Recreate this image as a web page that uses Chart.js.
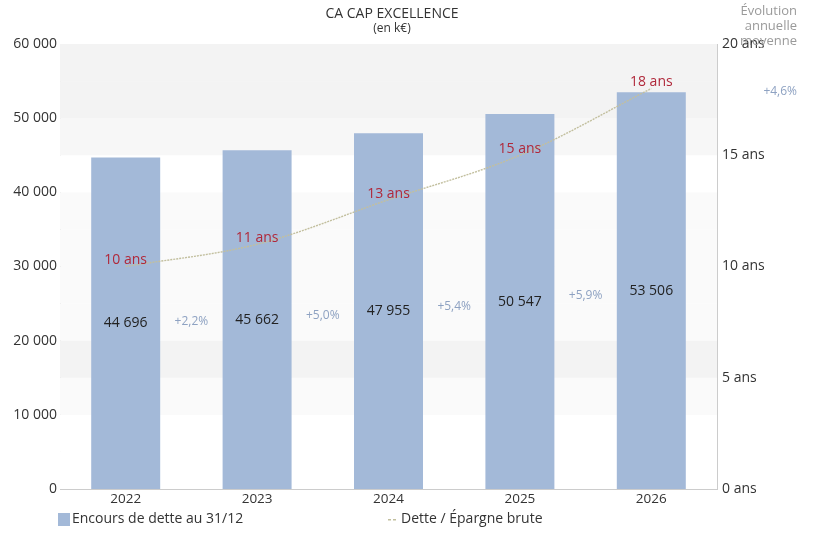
<!DOCTYPE html>
<html>
<head>
<meta charset="utf-8">
<script src="https://cdn.jsdelivr.net/npm/chart.js@4"></script>
<style>
	html, body { margin: 0; padding: 0; background: #ffffff; }
	#wrap { width: 816px; height: 533px; position: relative; }
</style>
</head>
<body>
<div id="wrap"><canvas id="chart"></canvas></div>
<script>
// Chart data
const years = ['2022', '2023', '2024', '2025', '2026'];
const encours = [44696, 45662, 47955, 50547, 53506];
const detteEpargne = [10, 11, 13, 15, 18];
const evolution = ['+2,2%', '+5,0%', '+5,4%', '+5,9%'];
const evolutionMoyenne = '+4,6%';

const FONT = '"Open Sans", "Noto Sans", sans-serif';
const BAR_COLOR = '#a3b9d8';
const LINE_COLOR = '#c2bf9e';
const RED = '#b0283a';
const GROWTH_COLOR = '#8ea2c2';

// background bands every 5 000, from bottom to top
const bandColors = ['#ffffff', '#ffffff', '#fafafa', '#f3f3f3', '#fafafa', '#fafafa',
	'#fafafa', '#fafafa', '#ffffff', '#f7f7f7', '#f3f3f3', '#f3f3f3'];

function formatThousands(v) {
	return String(v).replace(/\B(?=(\d{3})+(?!\d))/g, ' ');
}

const bandsPlugin = {
	id: 'bands',
	beforeDatasetsDraw(chart) {
		const { ctx, chartArea, scales } = chart;
		const y = scales.y;
		ctx.save();
		bandColors.forEach((c, i) => {
			const top = y.getPixelForValue((i + 1) * 5000);
			const bottom = y.getPixelForValue(i * 5000);
			ctx.fillStyle = c;
			ctx.fillRect(chartArea.left, top, chartArea.right - chartArea.left, bottom - top);
		});
		ctx.restore();
	}
};

const labelsPlugin = {
	id: 'labels',
	afterDatasetsDraw(chart) {
		const { ctx } = chart;
		const barMeta = chart.getDatasetMeta(0);
		const lineMeta = chart.getDatasetMeta(1);
		ctx.save();
		ctx.textAlign = 'center';
		ctx.textBaseline = 'middle';

		// bar values centred in bars
		const mids = barMeta.data.map(b => (b.y + b.base) / 2);
		ctx.font = '14px ' + FONT;
		ctx.fillStyle = '#222222';
		barMeta.data.forEach((b, i) => {
			ctx.fillText(formatThousands(encours[i]), b.x, mids[i]);
		});

		// growth between bars
		ctx.font = '12px ' + FONT;
		ctx.fillStyle = GROWTH_COLOR;
		evolution.forEach((t, i) => {
			const x = (barMeta.data[i].x + barMeta.data[i + 1].x) / 2;
			const y = (mids[i] + mids[i + 1]) / 2;
			ctx.fillText(t, x, y);
		});
		ctx.textAlign = 'right';
		ctx.fillText(evolutionMoyenne, 797, 92);
		ctx.textAlign = 'center';

		// dette / epargne labels
		ctx.font = '14px ' + FONT;
		ctx.fillStyle = RED;
		lineMeta.data.forEach((p, i) => {
			ctx.fillText(detteEpargne[i] + ' ans', p.x, p.y - 6);
		});

		// title
		ctx.fillStyle = '#333333';
		ctx.font = '14px ' + FONT;
		ctx.fillText('CA CAP EXCELLENCE', 392, 14);
		ctx.font = '12px ' + FONT;
		ctx.fillText('(en k€)', 392, 29);

		// side note
		ctx.textAlign = 'right';
		ctx.fillStyle = '#9a9a9a';
		ctx.font = '13px ' + FONT;
		ctx.fillText('Évolution', 797, 11);
		ctx.fillText('annuelle', 797, 26);
		ctx.fillText('moyenne', 797, 41);

		// legend
		ctx.textAlign = 'left';
		ctx.fillStyle = BAR_COLOR;
		ctx.fillRect(58, 513, 12, 13);
		ctx.fillStyle = '#333333';
		ctx.font = '14px ' + FONT;
		ctx.fillText('Encours de dette au 31/12', 72, 519);
		ctx.fillStyle = LINE_COLOR;
		ctx.fillRect(388, 519, 3, 1.5);
		ctx.fillRect(393, 519, 3, 1.5);
		ctx.fillStyle = '#333333';
		ctx.fillText('Dette / Épargne brute', 401, 519);
		ctx.restore();
	}
};

const ctx = document.getElementById('chart').getContext('2d');
new Chart(ctx, {
	data: {
		labels: years,
		datasets: [
			{
				type: 'bar',
				label: 'Encours de dette au 31/12',
				data: encours,
				backgroundColor: BAR_COLOR,
				borderWidth: 0,
				categoryPercentage: 1,
				barPercentage: 0.525,
				yAxisID: 'y',
				order: 2
			},
			{
				type: 'line',
				label: 'Dette / Épargne brute',
				data: detteEpargne,
				borderColor: LINE_COLOR,
				borderWidth: 1.4,
				borderDash: [2, 1],
				tension: 0.35,
				pointRadius: 0,
				fill: false,
				yAxisID: 'y1',
				order: 1
			}
		]
	},
	options: {
		responsive: true,
		maintainAspectRatio: false,
		animation: false,
		layout: { padding: { top: 44, bottom: 24, left: 0, right: 0 } },
		plugins: {
			legend: { display: false },
			tooltip: { enabled: false }
		},
		scales: {
			x: {
				offset: true,
				grid: { display: false, drawTicks: false },
				border: { color: '#cccccc' },
				ticks: { color: '#333333', font: { family: FONT, size: 13.5 }, padding: 2 },
				afterFit(scale) { scale.height = 20; }
			},
			y: {
				position: 'left',
				min: 0,
				max: 60000,
				grid: { display: false, drawTicks: false },
				border: { color: '#cccccc' },
				ticks: {
					stepSize: 10000,
					color: '#333333',
					padding: 3,
					font: { family: FONT, size: 14 },
					callback: v => formatThousands(v)
				},
				afterFit(scale) { scale.width = 60; }
			},
			y1: {
				position: 'right',
				min: 0,
				max: 20,
				grid: { display: false, drawTicks: false },
				border: { color: '#cccccc' },
				ticks: {
					stepSize: 5,
					color: '#333333',
					padding: 5,
					font: { family: FONT, size: 14 },
					callback: v => v + ' ans'
				},
				afterFit(scale) { scale.width = 99; }
			}
		}
	},
	plugins: [bandsPlugin, labelsPlugin]
});
</script>
</body>
</html>
